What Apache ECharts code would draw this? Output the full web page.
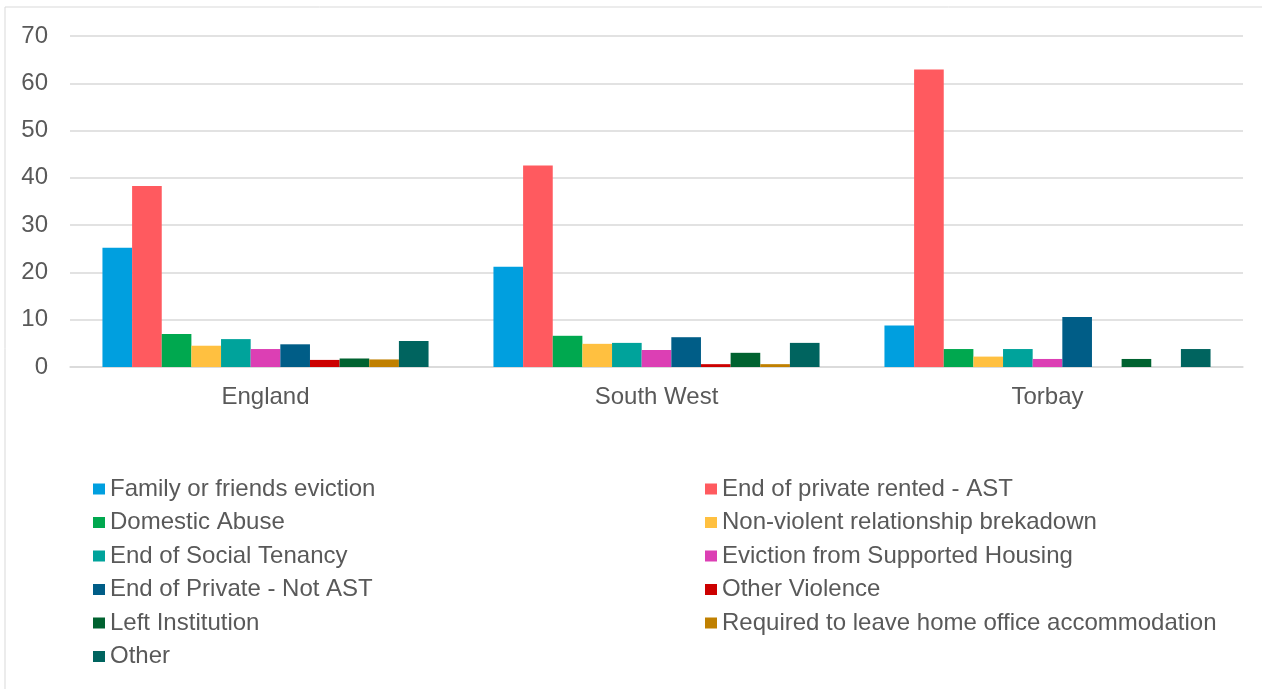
<!DOCTYPE html>
<html>
<head>
<meta charset="utf-8">
<style>
  html, body { margin: 0; padding: 0; background: #fff; }
  #main { width: 1262px; height: 689px; }
</style>
<script src="https://cdn.jsdelivr.net/npm/echarts@6/dist/echarts.min.js"></script>
</head>
<body>
<div id="main"></div>
<script>
var regions = ['England', 'South West', 'Torbay'];
var yTicks = [0, 10, 20, 30, 40, 50, 60, 70];

var reasons = [
  'Family or friends eviction',
  'End of private rented - AST',
  'Domestic Abuse',
  'Non-violent relationship brekadown',
  'End of Social Tenancy',
  'Eviction from Supported Housing',
  'End of Private - Not AST',
  'Other Violence',
  'Left Institution',
  'Required to leave home office accommodation',
  'Other'
];

var familyEviction   = [25.2, 21.2, 8.8];
var privateRentedAst = [38.3, 42.6, 62.9];
var domesticAbuse    = [7.0, 6.6, 3.8];
var nonViolent       = [4.5, 4.9, 2.2];
var socialTenancy    = [5.9, 5.1, 3.8];
var supportedHousing = [3.8, 3.6, 1.7];
var privateNotAst    = [4.8, 6.3, 10.6];
var otherViolence    = [1.5, 0.6, 0];
var leftInstitution  = [1.8, 3.0, 1.7];
var homeOffice       = [1.6, 0.6, 0];
var other            = [5.5, 5.1, 3.8];

var colors = ['#009fdf', '#ff5a5f', '#00a84f', '#ffc040', '#00a39b', '#dc3fb4',
              '#005d87', '#cc0000', '#006230', '#c08000', '#00645f'];

var seriesValues = [familyEviction, privateRentedAst, domesticAbuse, nonViolent,
  socialTenancy, supportedHousing, privateNotAst, otherViolence, leftInstitution,
  homeOffice, other];

var textColor = '#595959';
var font = 'Liberation Sans, Arial, sans-serif';

var series = [];
for (var i = 0; i < reasons.length; i++) {
  series.push({
    name: reasons[i],
    type: 'bar',
    data: seriesValues[i],
    barGap: '0%',
    barCategoryGap: '16.6%',
    itemStyle: { color: colors[i] }
  });
}

// two legend columns, like the original
var legendCommon = {
  orient: 'vertical',
  top: 472,
  itemWidth: 12,
  itemHeight: 11,
  itemGap: 9.5,
  icon: 'rect',
  textStyle: { color: textColor, fontSize: 24, fontFamily: font, lineHeight: 24 }
};

var chart = echarts.init(document.getElementById('main'));
chart.setOption({
  backgroundColor: '#fff',
  animation: false,
  color: colors,
  graphic: [{
    type: 'rect',
    shape: { x: 5, y: 7, width: 1400, height: 800 },
    style: { fill: 'none', stroke: '#d9d9d9', lineWidth: 1 },
    silent: true
  }],
  grid: { left: 70, right: 19, top: 36, bottom: 322 },
  legend: [
    Object.assign({ left: 88, data: reasons.filter(function (r, k) { return k % 2 === 0; }) }, legendCommon),
    Object.assign({ left: 700, data: reasons.filter(function (r, k) { return k % 2 === 1; }) }, legendCommon)
  ],
  xAxis: {
    type: 'category',
    data: regions,
    axisTick: { show: false },
    axisLine: { lineStyle: { color: '#d9d9d9', width: 1.5 } },
    axisLabel: { color: textColor, fontSize: 24, fontFamily: font, margin: 18 }
  },
  yAxis: {
    type: 'value',
    min: yTicks[0],
    max: yTicks[yTicks.length - 1],
    interval: 10,
    axisLine: { show: false },
    axisTick: { show: false },
    splitLine: { lineStyle: { color: '#d9d9d9', width: 1.5 } },
    axisLabel: { color: textColor, fontSize: 24, fontFamily: font, margin: 22 }
  },
  series: series
});
</script>
</body>
</html>
